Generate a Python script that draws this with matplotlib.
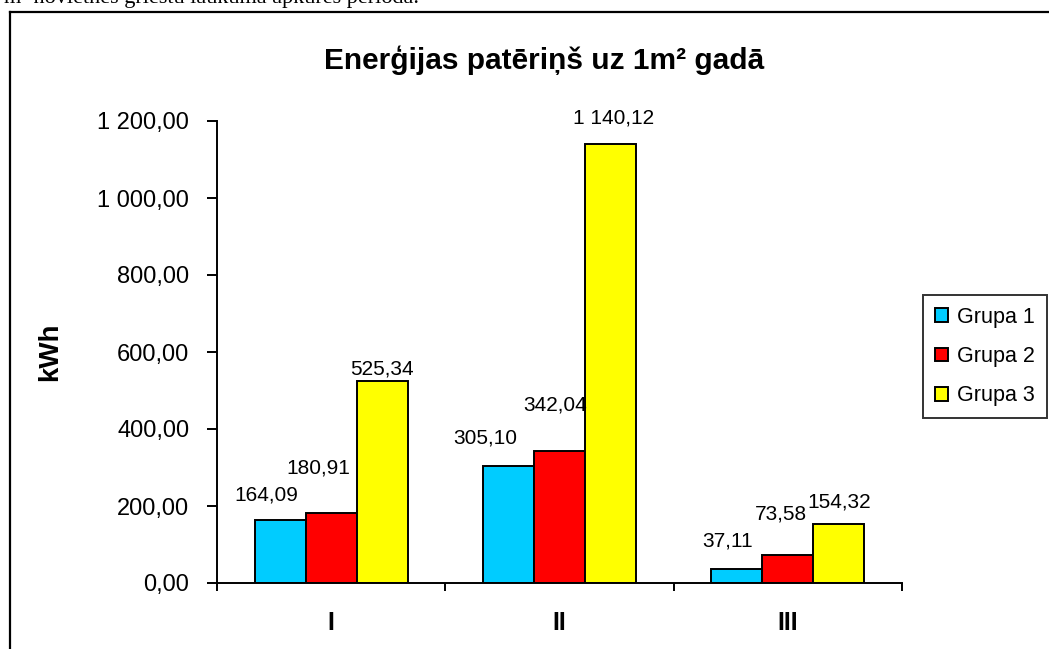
import numpy as np
import matplotlib.pyplot as plt
from matplotlib.lines import Line2D

plt.rcParams["font.family"] = ["Liberation Sans", "DejaVu Sans"]

# data
categories = ["I", "II", "III"]
series_names = ["Grupa 1", "Grupa 2", "Grupa 3"]
grupa1 = [164.09, 305.10, 37.11]
grupa2 = [180.91, 342.04, 73.58]
grupa3 = [525.34, 1140.12, 154.32]
yticks = [0, 200, 400, 600, 800, 1000, 1200]

colors = ["#00CCFF", "#FF0000", "#FFFF00"]
# label offsets in pixels (dx, dy) - labels are nudged like in Excel
label_offsets = [
    [(-14, 25), (-23, 28), (-9, 28)],
    [(-13, 45), (-4, 46), (-7, 41)],
    [(0, 12), (3, 26), (0, 22)],
]


def fmt(v):
    s = "{:,.2f}".format(v)
    return s.replace(",", " ").replace(".", ",")


fig = plt.figure(figsize=(10.49, 6.49), dpi=100)
ax = fig.add_axes([217 / 1049, 66 / 649, 685 / 1049, 462 / 649])

x = np.arange(len(categories))
w = 0.223
all_series = [grupa1, grupa2, grupa3]
for i, (vals, c, name) in enumerate(zip(all_series, colors, series_names)):
    pos = x + (i - 1) * w
    bars = ax.bar(pos, vals, w, color=c, edgecolor="black", linewidth=1.4, label=name)
    for j, (b, v) in enumerate(zip(bars, vals)):
        dx, dy = label_offsets[i][j]
        ax.annotate(fmt(v), (b.get_x() + b.get_width() / 2, v),
                    xytext=(dx, dy), textcoords="offset pixels",
                    ha="center", va="center", fontsize=15)

ax.set_xlim(-0.5, 2.5)
ax.set_ylim(0, 1200)
ax.set_yticks(yticks)
ax.set_yticklabels([fmt(v) for v in yticks], fontsize=17)
ax.set_xticks([-0.5, 0.5, 1.5, 2.5])
ax.set_xticklabels([])
ax.set_xticks(x, minor=True)
ax.set_xticklabels(categories, minor=True, fontsize=18, fontweight="bold")
ax.tick_params(axis="x", which="minor", length=0, pad=20)
ax.tick_params(axis="x", which="major", length=6, width=1.4, direction="out")
ax.tick_params(axis="y", length=7, width=1.4, direction="out", pad=13)
for s in ["top", "right"]:
    ax.spines[s].set_visible(False)
for s in ["left", "bottom"]:
    ax.spines[s].set_linewidth(1.4)

ax.set_ylabel("kWh", fontsize=20, fontweight="bold")
ax.yaxis.set_label_coords(-154 / 685, 0.5)

fig.text(544 / 1049, 1 - 60 / 649, "Enerģijas patēriņš uz 1m² gadā",
         ha="center", va="center", fontsize=21.5, fontweight="bold")

leg = ax.legend(loc="upper left", bbox_to_anchor=(923 / 1049, 1 - 295 / 649),
                bbox_transform=fig.transFigure, fontsize=15.5, frameon=True,
                fancybox=False, edgecolor="black", handlelength=0.6,
                handleheight=0.6, handletextpad=0.45, labelspacing=0.85,
                borderpad=0.55, borderaxespad=0)
leg.get_frame().set_linewidth(1.4)

# chart frame (left + top edges visible only)
fig.add_artist(Line2D([9.5 / 1049, 9.5 / 1049], [0, 1 - 11.5 / 649],
                      transform=fig.transFigure, color="black", linewidth=1.6))
fig.add_artist(Line2D([9.5 / 1049, 1], [1 - 11.5 / 649, 1 - 11.5 / 649],
                      transform=fig.transFigure, color="black", linewidth=1.6))

# cut-off line of document text above chart
fig.text(4 / 1049, 1 - 3 / 649, "m² novietnes griestu laukumā apkures periodā.",
         ha="left", va="baseline", fontsize=16, family="Liberation Serif")

fig.savefig("out.png", dpi=100)
